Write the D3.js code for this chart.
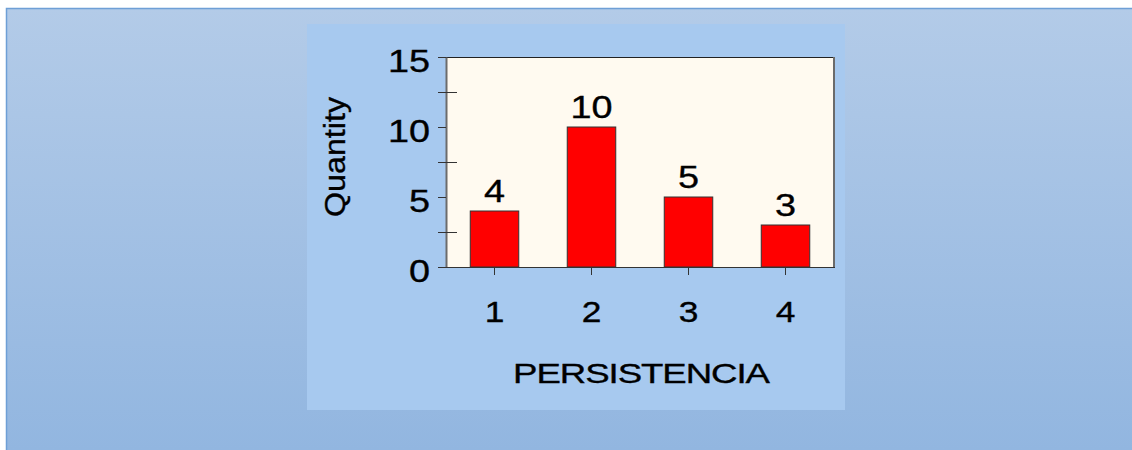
<!DOCTYPE html>
<html>
<head>
<meta charset="utf-8">
<script src="https://cdn.jsdelivr.net/npm/d3@7"></script>
<style>
  html, body { margin: 0; padding: 0; background: #ffffff; }
  svg { display: block; }
  text { font-family: "Liberation Sans", Arial, sans-serif; fill: #000; stroke: #000; stroke-width: 0.35px; }
</style>
</head>
<body>
<svg id="chart" width="1132" height="450"></svg>
<script>
// Persistence counts
const categories = ["1", "2", "3", "4"];
const quantities = [4, 10, 5, 3];
const yTicks = [0, 5, 10, 15];
const yMinorTicks = [2.5, 7.5, 12.5];
const xTitle = "PERSISTENCIA";
const yTitle = "Quantity";

const svg = d3.select("#chart");
const W = 1132, H = 450;

// Outer slide background with vertical gradient
const defs = svg.append("defs");
const grad = defs.append("linearGradient").attr("id", "bgGrad")
  .attr("x1", 0).attr("y1", 0).attr("x2", 0).attr("y2", 1);
grad.append("stop").attr("offset", "0%").attr("stop-color", "#b3cbe8");
grad.append("stop").attr("offset", "100%").attr("stop-color", "#92b6e0");

svg.append("rect").attr("x", 6).attr("y", 8).attr("width", W - 6).attr("height", H - 8)
  .attr("fill", "url(#bgGrad)");
svg.append("path").attr("d", `M6.5,${H} V8.5 H${W}`)
  .attr("fill", "none").attr("stroke", "#6e9fd6").attr("stroke-width", 1.5);

// Chart panel
svg.append("rect").attr("x", 307).attr("y", 24).attr("width", 538).attr("height", 386)
  .attr("fill", "#a7c9ef");

// Plot area
const plot = { left: 446, right: 834, top: 57, bottom: 267 };
const x = d3.scaleBand().domain(categories).range([plot.left, plot.right])
  .paddingInner(0.5).paddingOuter(0.25);
const y = d3.scaleLinear().domain([0, 15]).range([plot.bottom, plot.top]);

svg.append("rect").attr("x", plot.left).attr("y", plot.top)
  .attr("width", plot.right - plot.left).attr("height", plot.bottom - plot.top)
  .attr("fill", "#fffaf0");
// top border and shaded right border
svg.append("line").attr("x1", plot.left).attr("x2", plot.right).attr("y1", plot.top + 0.5).attr("y2", plot.top + 0.5)
  .attr("stroke", "#222").attr("stroke-width", 1);
svg.append("line").attr("x1", plot.right).attr("x2", plot.right).attr("y1", plot.top).attr("y2", plot.bottom)
  .attr("stroke", "#6b6b6b").attr("stroke-width", 2);

// Bars
svg.append("g").selectAll("rect").data(quantities).join("rect")
  .attr("x", (d, i) => x(categories[i]))
  .attr("y", d => y(d))
  .attr("width", x.bandwidth())
  .attr("height", d => y(0) - y(d))
  .attr("fill", "#ff0000")
  .attr("stroke", "#333")
  .attr("stroke-width", 1);

const SX = 1.22; // horizontal widening of the glyphs

// Value labels
svg.append("g").selectAll("text").data(quantities).join("text")
  .attr("transform", (d, i) => `translate(${x(categories[i]) + x.bandwidth() / 2},${y(d) - 9.5}) scale(${SX},1)`)
  .attr("text-anchor", "middle")
  .attr("font-size", 31)
  .text(d => d);

// Y axis: major ticks
const yAxis = svg.append("g").attr("transform", `translate(${plot.left},0)`)
  .call(d3.axisLeft(y).tickValues(yTicks).tickSizeInner(8).tickSizeOuter(0).tickFormat(d3.format("d")));
yAxis.select(".domain").attr("stroke", "#6b6b6b").attr("stroke-width", 2);
yAxis.selectAll(".tick line").attr("stroke", "#333");
yAxis.selectAll(".tick text")
  .attr("x", null).attr("dy", null)
  .attr("transform", `translate(-16,14.5) scale(${SX},1)`)
  .attr("font-size", 31).attr("font-family", null).attr("fill", "#000");

// Y axis: minor ticks crossing into the plot
const yMinor = svg.append("g").attr("transform", `translate(${plot.left},0)`)
  .call(d3.axisLeft(y).tickValues(yMinorTicks).tickSize(8).tickFormat(""));
yMinor.select(".domain").remove();
yMinor.selectAll(".tick line").attr("x1", 11).attr("stroke", "#333");

// X axis
const xAxis = svg.append("g").attr("transform", `translate(0,${plot.bottom})`)
  .call(d3.axisBottom(x).tickSizeInner(8).tickSizeOuter(0));
xAxis.select(".domain").attr("stroke", "#333").attr("d", `M${plot.left - 8},0.5H${plot.right + 1}`);
xAxis.selectAll(".tick line").attr("stroke", "#333");
xAxis.selectAll(".tick text")
  .attr("y", null).attr("dy", null)
  .attr("transform", `translate(0,55.3) scale(${SX},1)`)
  .attr("font-size", 29).attr("font-family", null).attr("fill", "#000");

// Axis titles: tight letters, widened to fill the target width
const xt = svg.append("text")
  .attr("text-anchor", "middle")
  .attr("font-size", 28)
  .attr("letter-spacing", -0.8)
  .text(xTitle);
const xtLen = xt.node().getComputedTextLength();
xt.attr("transform", `translate(641,382.5) scale(${256 / xtLen},1)`);

svg.append("text")
  .attr("transform", "translate(345,157) rotate(-90)")
  .attr("text-anchor", "middle")
  .attr("font-size", 30)
  .attr("textLength", 120).attr("lengthAdjust", "spacingAndGlyphs")
  .text(yTitle);
</script>
</body>
</html>
